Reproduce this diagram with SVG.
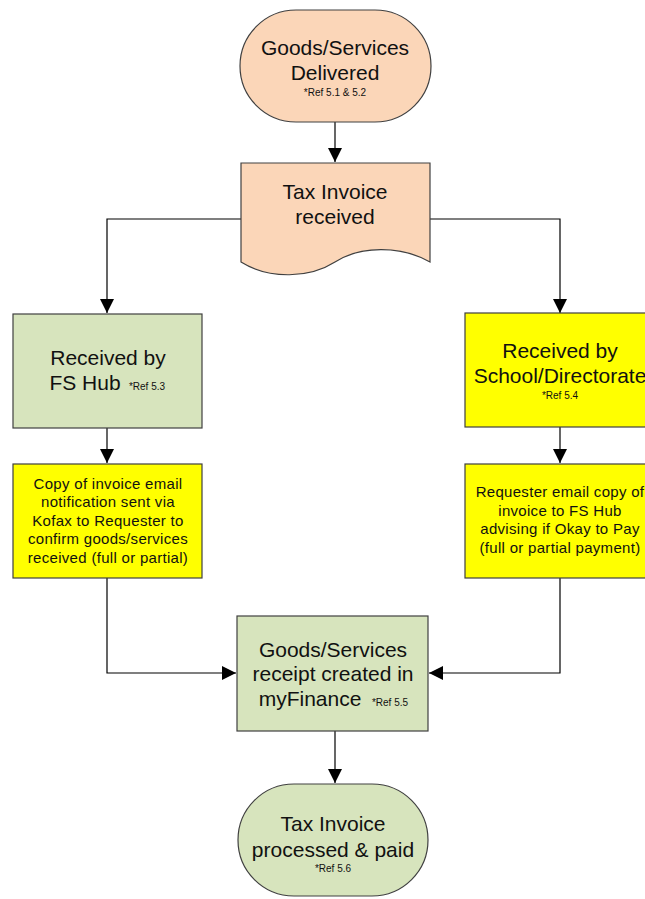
<svg xmlns="http://www.w3.org/2000/svg" width="645" height="899" viewBox="0 0 645 899">
<style>
.shape{stroke:#404040;stroke-width:1.2}
.peach{fill:#fbd6b8}
.green{fill:#d7e4bd}
.yellow{fill:#ffff00}
.t{font-family:"Liberation Sans",Arial,sans-serif;fill:#111;text-anchor:middle}
.big{font-size:21px}
.mid{font-size:15px;letter-spacing:0.3px}
.sm{font-size:10px}
.conn{fill:none;stroke:#000;stroke-width:1.2}
</style>
<defs>
<marker id="arr" viewBox="0 0 10 10" refX="10" refY="5" markerWidth="14" markerHeight="14" markerUnits="userSpaceOnUse" orient="auto">
<path d="M0,0 L10,5 L0,10 z" fill="#000"/>
</marker>
</defs>
<rect width="645" height="899" fill="#fff"/>
<g id="connectors">
<path class="conn" d="M335,122 V162" marker-end="url(#arr)"/>
<path class="conn" d="M241,219 H107 V313" marker-end="url(#arr)"/>
<path class="conn" d="M430,219 H560 V313" marker-end="url(#arr)"/>
<path class="conn" d="M107,428 V463" marker-end="url(#arr)"/>
<path class="conn" d="M560,427 V463" marker-end="url(#arr)"/>
<path class="conn" d="M107,578 V673 H236" marker-end="url(#arr)"/>
<path class="conn" d="M560,578 V673 H429" marker-end="url(#arr)"/>
<path class="conn" d="M335,731 V783" marker-end="url(#arr)"/>
</g>
<g id="start">
<rect class="shape peach" x="240" y="10" width="191" height="112" rx="56" ry="56"/>
<text class="t big" x="335" y="55">Goods/Services</text>
<text class="t big" x="335" y="80">Delivered</text>
<text class="t sm" x="335" y="96">*Ref 5.1 &amp; 5.2</text>
</g>
<g id="invoice">
<path class="shape peach" d="M241,163 H430 V262 C400,245 360,246 335,262 C310,278 270,280 241,262 Z"/>
<text class="t big" x="335" y="199">Tax Invoice</text>
<text class="t big" x="335" y="224">received</text>
</g>
<g id="fshub">
<rect class="shape green" x="13" y="314" width="189" height="114"/>
<text class="t big" x="108" y="365">Received by</text>
<text class="t big" x="85" y="390">FS Hub</text>
<text class="t sm" x="147" y="390">*Ref 5.3</text>
</g>
<g id="school">
<rect class="shape yellow" x="465" y="313" width="191" height="114"/>
<text class="t big" x="560" y="358">Received by</text>
<text class="t big" x="560" y="383">School/Directorate</text>
<text class="t sm" x="560" y="399">*Ref 5.4</text>
</g>
<g id="kofax">
<rect class="shape yellow" x="13" y="464" width="189" height="114"/>
<text class="t mid" x="108" y="489">Copy of invoice email</text>
<text class="t mid" x="108" y="507">notification sent via</text>
<text class="t mid" x="108" y="526">Kofax to Requester to</text>
<text class="t mid" x="108" y="544">confirm goods/services</text>
<text class="t mid" x="108" y="563">received (full or partial)</text>
</g>
<g id="requester">
<rect class="shape yellow" x="465" y="464" width="191" height="114"/>
<text class="t mid" x="560" y="497">Requester email copy of</text>
<text class="t mid" x="560" y="516">invoice to FS Hub</text>
<text class="t mid" x="560" y="534">advising if Okay to Pay</text>
<text class="t mid" x="560" y="553">(full or partial payment)</text>
</g>
<g id="receipt">
<rect class="shape green" x="237" y="616" width="191" height="115"/>
<text class="t big" x="333" y="657">Goods/Services</text>
<text class="t big" x="333" y="681">receipt created in</text>
<text class="t big" x="310" y="706">myFinance</text>
<text class="t sm" x="390" y="706">*Ref 5.5</text>
</g>
<g id="end">
<rect class="shape green" x="238" y="784" width="190" height="112" rx="56" ry="56"/>
<text class="t big" x="333" y="831">Tax Invoice</text>
<text class="t big" x="333" y="857">processed &amp; paid</text>
<text class="t sm" x="333" y="872">*Ref 5.6</text>
</g>
</svg>
